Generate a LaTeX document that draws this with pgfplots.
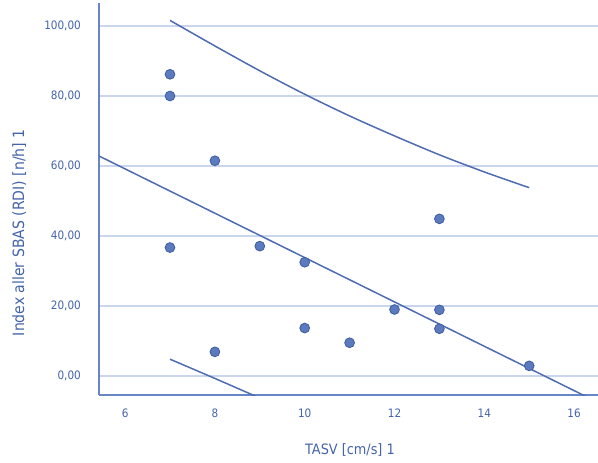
\documentclass[border=0pt]{standalone}
\usepackage{fontspec}
\setmainfont{DejaVu Sans Condensed}
\usepackage{pgfplots}
\pgfplotsset{compat=1.18}
\definecolor{txt}{RGB}{68,100,170}
\definecolor{axisc}{RGB}{104,134,198}
\definecolor{gridc}{RGB}{202,214,238}
\definecolor{lc}{RGB}{78,108,178}
\definecolor{ptfill}{RGB}{92,122,190}
\definecolor{ptedge}{RGB}{62,92,160}
\begin{document}
\begin{tikzpicture}
\begin{axis}[
  at={(0,0)}, anchor=south west, scale only axis,
  width=499bp, height=392bp,
  xmin=5.419, xmax=16.532, ymin=-5.43, ymax=106.57,
  axis x line*=bottom, axis y line*=left,
  axis line style={draw=axisc, line width=2.8bp},
  x axis line style={-}, y axis line style={-},
  xtick={6,8,10,12,14,16}, ytick={0,20,40,60,80,100},
  major tick length=0pt,
  ymajorgrids, grid style={draw=gridc, line width=1.3bp},
  tick label style={font=\fontsize{11.6bp}{13bp}\selectfont, text=txt},
  yticklabel style={inner sep=0pt, xshift=-18bp},
  xticklabel style={inner sep=0pt, yshift=-14bp},
  y tick label style={/pgf/number format/.cd, fixed, fixed zerofill, precision=2, use comma, assume math mode=true},
  x tick label style={/pgf/number format/.cd, assume math mode=true},
  xlabel style={font=\fontsize{14.3bp}{16bp}\selectfont, text=txt},
  ylabel style={font=\fontsize{15.6bp}{17bp}\selectfont, text=txt},
  xlabel={TASV [cm/s] 1},
  ylabel={Index aller SBAS (RDI) [n/h] 1},
  xlabel style={at={(axis description cs:0.503,-0.140)}, anchor=center},
  ylabel style={at={(axis description cs:-0.160,0.414)}, anchor=center},
]
\addplot[draw=lc, line width=1.5bp] coordinates {(5,65.51) (17,-10.51)};
\addplot[draw=lc, line width=1.5bp, smooth] coordinates {(7,101.6) (8,94.3) (9,87.2) (10,80.5) (11,74.3) (12,68.6) (13,63.2) (14,58.3) (15,53.8)};
\addplot[draw=lc, line width=1.5bp, smooth] coordinates {(7,4.8) (8,-0.7) (9,-6.3)};
\addplot[only marks, mark=*, mark size=4.9bp, mark options={fill=ptfill, draw=ptedge, line width=0.8bp}] table {
x y
7 86.2
7 80.0
8 61.5
7 36.7
9 37.1
10 32.5
8 6.9
10 13.7
11 9.5
12 19.0
13 18.9
13 13.5
13 44.9
15 2.9
};
\end{axis}
\pgfresetboundingbox
\path (-99bp,-68bp) rectangle (499bp,395bp);
\end{tikzpicture}
\end{document}
